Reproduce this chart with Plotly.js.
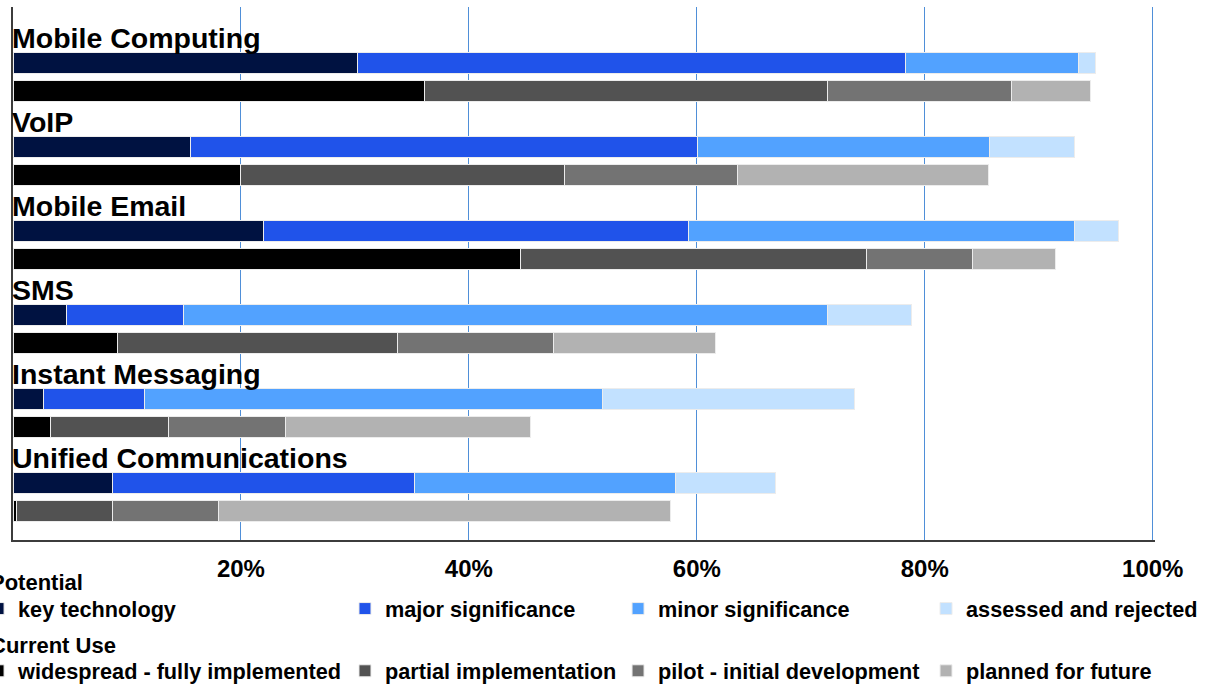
<!DOCTYPE html>
<html>
<head>
<meta charset="utf-8">
<script src="https://cdn.plot.ly/plotly-3.0.1.min.js"></script>
<style>
  html, body { margin: 0; padding: 0; background: #ffffff; }
  #chart { width: 1206px; height: 684px; }
</style>
</head>
<body>
<div id="chart"></div>
<script>
// Technologies, top to bottom
const categories = ['Mobile Computing', 'VoIP', 'Mobile Email', 'SMS', 'Instant Messaging', 'Unified Communications'];

// Potential (% of respondents)
const keyTechnology      = [30.2, 15.6, 22.0, 4.7, 2.7, 8.7];
const majorSignificance  = [48.1, 44.5, 37.3, 10.3, 8.8, 26.5];
const minorSignificance  = [15.2, 25.6, 33.8, 56.5, 40.2, 22.9];
const assessedRejected   = [1.5, 7.4, 3.9, 7.3, 22.1, 8.8];

// Current use (% of respondents)
const widespread         = [36.1, 20.0, 44.5, 9.2, 3.3, 0.3];
const partialImpl        = [35.4, 28.4, 30.4, 24.5, 10.3, 8.4];
const pilotDev           = [16.1, 15.2, 9.3, 13.7, 10.3, 9.3];
const plannedFuture      = [6.9, 22.0, 7.3, 14.2, 21.5, 39.7];

// Axis ticks
const tickValues = [20, 40, 60, 80, 100];
const tickLabels = ['20%', '40%', '60%', '80%', '100%'];

const FONT = 'Liberation Sans, Arial, Helvetica, sans-serif';

// Each technology takes three rows: its heading, the Potential bar and the Current Use bar
const headingRow   = categories.map((c, i) => 3 * i + 1);
const potentialRow = categories.map((c, i) => 3 * i + 2);
const currentRow   = categories.map((c, i) => 3 * i + 3);

const edge = { color: 'rgba(236,236,236,1)', width: 1 };

function barTrace(name, values, rows, color, group, legendId) {
  return {
    type: 'bar',
    orientation: 'h',
    name: name,
    x: values,
    y: rows,
    width: 0.75,
    marker: { color: color, line: edge },
    legendgroup: group,
    legend: legendId,
    hovertemplate: name + ': %{x:.1f}%<extra></extra>'
  };
}

const data = [
  barTrace('key technology', keyTechnology, potentialRow, '#001241', 'potential', 'legend'),
  barTrace('major significance', majorSignificance, potentialRow, '#2053ea', 'potential', 'legend2'),
  barTrace('minor significance', minorSignificance, potentialRow, '#52a2ff', 'potential', 'legend3'),
  barTrace('assessed and rejected', assessedRejected, potentialRow, '#c2e1ff', 'potential', 'legend4'),
  barTrace('widespread - fully implemented', widespread, currentRow, '#000000', 'current', 'legend'),
  barTrace('partial implementation', partialImpl, currentRow, '#525252', 'current', 'legend2'),
  barTrace('pilot - initial development', pilotDev, currentRow, '#737373', 'current', 'legend3'),
  barTrace('planned for future', plannedFuture, currentRow, '#b2b2b2', 'current', 'legend4')
];

// Technology headings above each pair of bars
const annotations = categories.map((c, i) => ({
  xref: 'x', yref: 'y',
  x: 0, y: headingRow[i],
  xanchor: 'left', yanchor: 'middle',
  xshift: -3,
  yshift: -3,
  text: '<b>' + c + '</b>',
  showarrow: false,
  font: { family: FONT, size: 28.5, color: '#000000' }
}));

// Legend group headings
[['Potential', -0.08], ['Current Use', -0.198]].forEach(([t, yy]) => {
  annotations.push({
    xref: 'paper', yref: 'paper',
    x: -0.0215, y: yy,
    xanchor: 'left', yanchor: 'middle',
    text: '<b>' + t + '</b>',
    showarrow: false,
    font: { family: FONT, size: 22, color: '#000000' }
  });
});

function legendBox(xPaper) {
  return {
    x: xPaper, xanchor: 'left',
    y: -0.09, yanchor: 'top',
    orientation: 'v',
    traceorder: 'grouped',
    tracegroupgap: 31,
    groupclick: 'toggleitem',
    bgcolor: 'rgba(0,0,0,0)',
    borderwidth: 0,
    font: { family: FONT, size: 21.7, color: '#000000', weight: 'bold' }
  };
}

const layout = {
  width: 1206,
  height: 684,
  paper_bgcolor: '#ffffff',
  plot_bgcolor: '#ffffff',
  margin: { l: 13, r: 51, t: 7, b: 144, autoexpand: false },
  barmode: 'stack',
  font: { family: FONT, color: '#000000' },
  xaxis: {
    range: [0, 100.2],
    autorange: false,
    tickmode: 'array',
    tickvals: tickValues,
    ticktext: tickLabels,
    ticks: '',
    ticklabelstandoff: 6,
    tickfont: { family: FONT, size: 24, color: '#000000', weight: 'bold' },
    showgrid: true,
    gridcolor: 'rgb(79,143,216)',
    gridwidth: 1,
    zeroline: false,
    showline: true,
    linecolor: '#3c3c3c',
    linewidth: 2,
    fixedrange: true
  },
  yaxis: {
    range: [19.04, 0],
    autorange: false,
    showticklabels: false,
    ticks: '',
    showgrid: false,
    zeroline: false,
    showline: true,
    linecolor: '#3c3c3c',
    linewidth: 1.5,
    fixedrange: true
  },
  showlegend: true,
  legend:  legendBox(-0.0306),
  legend2: legendBox(0.2907),
  legend3: legendBox(0.5298),
  legend4: legendBox(0.7995),
  annotations: annotations
};

Plotly.newPlot('chart', data, layout, { displayModeBar: false });
</script>
</body>
</html>
